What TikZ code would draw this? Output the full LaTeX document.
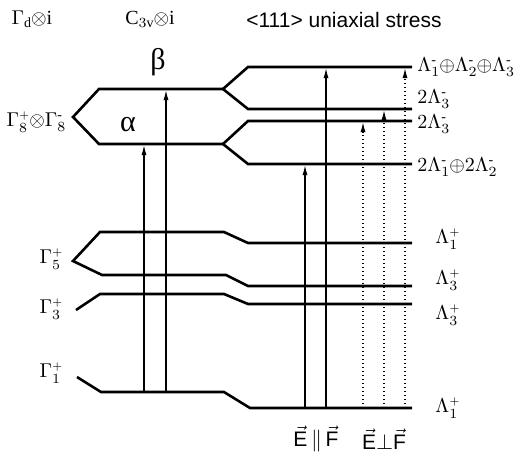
\documentclass[tikz,border=0pt]{standalone}
\usepackage{amsmath}
\usepackage{fontspec}
\setmainfont{Liberation Serif}
\setsansfont{Liberation Sans}
\usetikzlibrary{arrows.meta}

% small parity signs, as the labels print them
\newcommand*{\supplus}{{\scriptscriptstyle+}}
\newcommand*{\supminus}{\text{-}}
\scriptspace=0pt

\begin{document}
\begin{tikzpicture}[
    x=0.5pt, y=-0.5pt,
    every node/.style={font=\normalsize, inner sep=0.5pt},
    level/.style={line width=1.3pt, line join=miter},
    arrow/.style={-{Latex[length=5pt,width=2.6pt]}, line width=0.6pt, shorten >=0.6pt},
    dotarrow/.style={arrow, dash pattern=on 0.7pt off 1.3pt},
    head/.style={font=\fontsize{10.5}{12}\selectfont\sffamily},
    greek/.style={font=\fontsize{15}{16}\selectfont}
]
\useasboundingbox (0,0) rectangle (519,456);

% Column headings
\node (hOh) at (32,19) {$\Gamma_{\mathrm{d}}{\otimes}\mathrm{i}$};
\node (hCtv) at (150,19) {$\mathrm{C}_{3\mathrm{v}}{\otimes}\mathrm{i}$};
\node[head] (hStress) at (344,20) {<111> uniaxial stress};

% Gamma8+ x Gamma8- and its stress splitting
\draw[level] (223,89) -- (99,89) -- (73,117) -- (99,144) -- (223,144);
\draw[level] (412,67) -- (248,67) -- (223,89) -- (248,109) -- (412,109);
\draw[level] (412,121) -- (248,121) -- (223,144) -- (248,164) -- (412,164);
\node[greek] (alpha) at (128,125) {α};
\node[greek] (beta) at (158,62) {β};

% Gamma5+
\draw[level] (412,243) -- (248,243) -- (224,232) -- (100,232) -- (73,261)
    -- (102,275) -- (226,275) -- (248,286) -- (412,286);
% Gamma3+
\draw[level] (76,310) -- (100,294) -- (224,294) -- (248,304) -- (412,304);
% Gamma1+
\draw[level] (77,377) -- (101,392) -- (224,392) -- (250,408) -- (412,408);

% Labels on the left
\node (lG8) at (36,122) {$\Gamma_8^\supplus{\otimes}\Gamma_8^\supminus$};
\node (lG5) at (51,259) {$\Gamma_5^\supplus$};
\node (lG3) at (51,309) {$\Gamma_3^\supplus$};
\node (lG1) at (51,373) {$\Gamma_1^\supplus$};

% Labels on the right
\node[anchor=west] (rA) at (416,67) {$\Lambda_1^\supminus{\oplus}\Lambda_2^\supminus{\oplus}\Lambda_3^\supminus$};
\node[anchor=west] (rB) at (416,99) {$2\Lambda_3^\supminus$};
\node[anchor=west] (rC) at (416,124) {$2\Lambda_3^\supminus$};
\node[anchor=west] (rD) at (416,167) {$2\Lambda_1^\supminus{\oplus}2\Lambda_2^\supminus$};
\node[anchor=west] (rE) at (434,239) {$\Lambda_1^\supplus$};
\node[anchor=west] (rF) at (434,280) {$\Lambda_3^\supplus$};
\node[anchor=west] (rG) at (434,315) {$\Lambda_3^\supplus$};
\node[anchor=west] (rH) at (434,408) {$\Lambda_1^\supplus$};

% Arrow end points
\coordinate (aS) at (144,392);  \coordinate (aE) at (144,144);
\coordinate (bS) at (166,392);  \coordinate (bE) at (166,89);
\coordinate (cS) at (305,408);  \coordinate (cE) at (305,164);
\coordinate (dS) at (326,408);  \coordinate (dE) at (326,67);
\coordinate (eS) at (363,408);  \coordinate (eE) at (363,121);
\coordinate (fS) at (384,408);  \coordinate (fE) at (384,109);
\coordinate (gS) at (405,408);  \coordinate (gE) at (405,67);

% Transitions
\draw[arrow] (aS) -- (aE);
\draw[arrow] (bS) -- (bE);
\draw[arrow] (cS) -- (cE);
\draw[arrow] (dS) -- (dE);
\draw[dotarrow] (eS) -- (eE);
\draw[dotarrow] (fS) -- (fE);
\draw[dotarrow] (gS) -- (gE);

% Polarisation
\node[head] (pPar) at (316,439) {$\vec{\mathsf{E}}\,\|\,\vec{\mathsf{F}}$};
\node[head] (pPerp) at (384,439) {$\vec{\mathsf{E}}{\perp}\vec{\mathsf{F}}$};

\end{tikzpicture}
\end{document}
